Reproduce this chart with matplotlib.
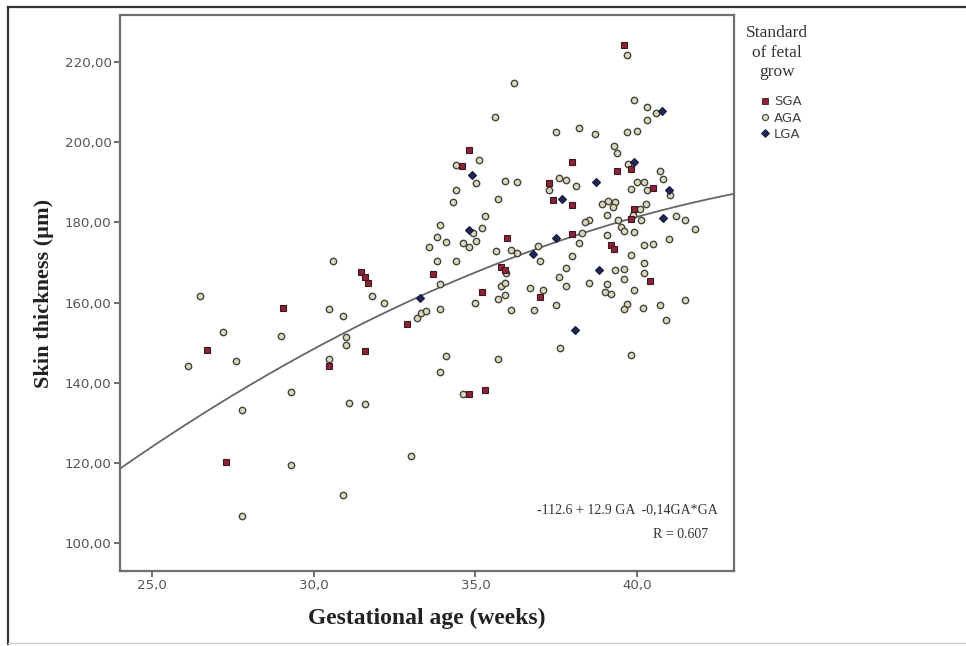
import matplotlib
matplotlib.use("Agg")
import matplotlib.pyplot as plt
from matplotlib.lines import Line2D
from matplotlib.ticker import FuncFormatter, FixedLocator
import numpy as np

# ---------------- data ----------------
sga_ga = [26.69, 27.27, 29.05, 30.47, 31.58, 31.47, 31.57, 31.68, 32.89, 34.79,
          34.59, 33.68, 34.81, 35.30, 35.19, 35.98, 35.79, 35.90, 36.99, 37.28,
          37.39, 38.00, 38.00, 38.00, 39.19, 39.29, 39.39, 39.81, 39.91, 39.81,
          40.49, 40.40, 39.60]
sga_val = [148.1, 120.3, 158.6, 144.2, 147.9, 167.7, 166.4, 164.9, 154.7, 198.2,
           194.1, 167.2, 137.1, 138.1, 162.6, 176.2, 169.0, 168.2, 161.5, 189.9,
           185.5, 184.4, 195.1, 177.2, 174.4, 173.3, 192.9, 193.3, 183.3, 180.8,
           188.6, 165.4, 224.4]

lga_ga = [33.28, 34.90, 34.79, 36.77, 37.48, 37.69, 38.09, 38.81, 38.73, 39.91,
          40.78, 41.00, 40.80]
lga_val = [161.2, 191.8, 178.2, 172.1, 176.1, 185.9, 153.1, 168.1, 190.0, 195.0,
           207.8, 188.0, 181.1]

aga_ga = [26.48, 26.09, 27.20, 27.58, 27.79, 27.79, 29.29, 28.98, 29.29, 30.60,
          30.47, 30.89, 30.99, 30.99, 30.47, 31.08, 31.58, 30.90, 31.79, 32.18,
          32.99, 33.19, 33.32, 33.48, 33.56, 33.91, 33.91, 34.10, 33.89, 34.61,
          35.69, 35.00, 36.10, 36.80, 36.70, 37.10, 35.79, 35.90, 35.90, 35.70,
          35.93, 35.62, 36.11, 36.30, 36.92, 37.00, 33.81, 34.40, 33.91, 33.81,
          34.10, 34.61, 34.80, 35.01, 34.91, 35.19, 35.29, 34.30, 34.40, 35.70,
          35.01, 35.10, 34.40, 35.90, 36.30, 36.20, 35.61, 37.49, 38.19, 38.70,
          37.28, 37.59, 37.79, 38.10, 37.80, 37.60, 37.80, 37.49, 37.61, 38.21,
          38.31, 38.00, 38.50, 38.40, 38.51, 39.08, 39.00, 39.20, 38.91, 39.10,
          39.31, 39.26, 39.08, 39.08, 39.42, 39.50, 39.60, 39.89, 40.11, 39.91,
          39.81, 39.32, 39.60, 39.60, 40.20, 40.20, 40.20, 40.50, 39.91, 39.70,
          39.60, 40.19, 40.70, 41.49, 40.90, 39.81, 40.99, 41.19, 41.48, 41.79,
          40.71, 40.80, 39.73, 39.37, 39.29, 40.01, 40.20, 39.81, 40.30, 41.02,
          40.27, 40.09, 39.68, 39.99, 39.91, 40.30, 40.60, 40.30, 39.70]
aga_val = [161.6, 144.2, 152.6, 145.3, 133.2, 106.7, 119.5, 151.6, 137.7, 170.4,
           158.4, 156.7, 151.5, 149.5, 145.8, 135.0, 134.6, 112.0, 161.6, 159.9,
           121.8, 156.2, 157.5, 157.8, 173.9, 158.4, 164.6, 146.6, 142.7, 137.1,
           145.8, 159.8, 158.1, 158.1, 163.6, 163.2, 164.1, 164.9, 161.9, 160.9,
           167.5, 172.9, 173.2, 172.4, 174.1, 170.5, 170.5, 170.5, 179.3, 176.5,
           175.1, 175.0, 174.0, 175.3, 177.3, 178.6, 181.6, 185.0, 188.0, 185.9,
           189.8, 195.5, 194.3, 190.4, 190.2, 214.7, 206.3, 202.5, 203.6, 202.0,
           188.1, 191.2, 190.6, 189.2, 168.6, 166.5, 164.1, 159.4, 148.7, 174.9,
           177.3, 171.7, 180.6, 180.0, 164.8, 164.6, 162.7, 162.1, 184.6, 185.4,
           185.0, 183.9, 181.9, 176.9, 180.6, 179.0, 177.9, 181.9, 180.6, 177.7,
           171.9, 168.1, 168.5, 166.0, 169.9, 167.4, 174.3, 174.6, 163.1, 159.7,
           158.3, 158.7, 159.4, 160.7, 155.7, 146.8, 175.8, 181.5, 180.5, 178.3,
           192.9, 190.9, 194.6, 197.4, 199.1, 190.0, 190.0, 188.4, 188.2, 186.9,
           184.6, 183.4, 202.5, 202.8, 210.7, 208.8, 207.4, 205.5, 221.9]

# quadratic fit curve as drawn in the picture
fit_a, fit_b, fit_c = -77.0, 10.68, -0.1055

x_ticks = [25.0, 30.0, 35.0, 40.0]
y_ticks = [100, 120, 140, 160, 180, 200, 220]
x_label = "Gestational age (weeks)"
y_label = "Skin thickness (\u00b5m)"
legend_title = "Standard\nof fetal\ngrow"
group_names = ["SGA", "AGA", "LGA"]
eq_text = "-112.6 + 12.9 GA  -0,14GA*GA"
r_text = "R = 0.607"

# ---------------- figure ----------------
W, H = 966, 646
fig = plt.figure(figsize=(W / 100, H / 100), dpi=100)
fig.patch.set_facecolor("white")

# outer frame of the image
fig.add_artist(Line2D([8 / W, 8 / W], [1 - 7 / H, 1 - 644 / H], transform=fig.transFigure,
                      color="#333333", lw=1.6))
fig.add_artist(Line2D([8 / W, 1.0], [1 - 7 / H, 1 - 7 / H], transform=fig.transFigure,
                      color="#333333", lw=1.6))
fig.add_artist(Line2D([8 / W, 1.0], [1 - 643 / H, 1 - 643 / H], transform=fig.transFigure,
                      color="#cccccc", lw=1.0))

ax = fig.add_axes([120 / W, 1 - 571 / H, (734 - 120) / W, (571 - 15) / H])
ax.set_xlim(24.0, 43.0)
ax.set_ylim(93.0, 231.8)

for s in ax.spines.values():
    s.set_color("#6e6e6e")
    s.set_linewidth(1.6)

ax.xaxis.set_major_locator(FixedLocator(x_ticks))
ax.yaxis.set_major_locator(FixedLocator(y_ticks))
ax.xaxis.set_major_formatter(FuncFormatter(lambda v, p: f"{v:.1f}".replace(".", ",")))
ax.yaxis.set_major_formatter(FuncFormatter(lambda v, p: f"{v:.2f}".replace(".", ",")))
ax.tick_params(axis="both", direction="out", length=4, width=1.2, color="#555555",
               labelsize=9.6, labelcolor="#555555", pad=2)
ax.tick_params(top=False, right=False)

# fit curve
xs = np.linspace(24.0, 43.0, 300)
ax.plot(xs, fit_a + fit_b * xs + fit_c * xs ** 2, color="#666666", lw=1.3, zorder=1)

ms = 4.6
ax.plot(aga_ga, aga_val, ls="none", marker="o", ms=ms, mfc="#dcdab6", mec="#444444",
        mew=1.0, zorder=2)
ax.plot(sga_ga, sga_val, ls="none", marker="s", ms=ms, mfc="#8c2336", mec="#3a1a22",
        mew=0.8, zorder=3)
ax.plot(lga_ga, lga_val, ls="none", marker="D", ms=ms * 0.95, mfc="#202656", mec="#14163a",
        mew=0.8, zorder=3)

ax.set_xlabel(x_label, family="Liberation Serif", fontweight="bold", fontsize=17,
              color="#222222", labelpad=11)
ax.set_ylabel(y_label, family="Liberation Serif", fontweight="bold", fontsize=16,
              color="#222222", labelpad=8)

ax.text(0.974, 0.11, eq_text, transform=ax.transAxes, ha="right", va="center",
        family="Liberation Serif", fontsize=10, color="#333333")
ax.text(0.958, 0.065, r_text, transform=ax.transAxes, ha="right", va="center",
        family="Liberation Serif", fontsize=10, color="#333333")

# legend
fig.text(777 / W, 1 - 25 / H, legend_title, ha="center", va="top", multialignment="center",
         family="Liberation Serif", fontsize=12.5, color="#333333", linespacing=1.3)
handles = [
    Line2D([], [], ls="none", marker="s", ms=4.4, mfc="#8c2336", mec="#3a1a22", mew=0.6),
    Line2D([], [], ls="none", marker="o", ms=4.4, mfc="#dcdab6", mec="#444444", mew=0.8),
    Line2D([], [], ls="none", marker="D", ms=4.2, mfc="#202656", mec="#14163a", mew=0.6),
]
leg = fig.legend(handles, group_names, loc="upper left",
                 bbox_to_anchor=(752 / W, 1 - 86 / H), frameon=False,
                 fontsize=9.5, handlelength=0.6, handletextpad=0.35,
                 labelspacing=0.25, borderpad=0.2)
for t in leg.get_texts():
    t.set_color("#444444")

fig.savefig("out.png", dpi=100)
